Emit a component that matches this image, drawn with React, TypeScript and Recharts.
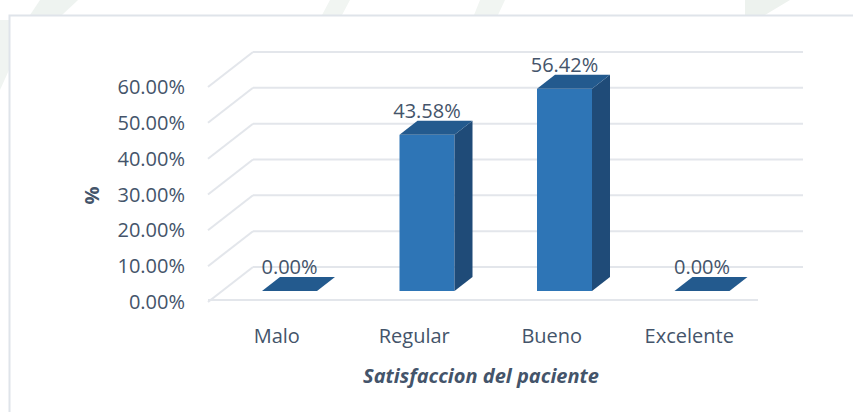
import React from 'react';
import { BarChart, Bar, XAxis, YAxis, CartesianGrid, LabelList, Label } from 'recharts';

const categories = ['Malo', 'Regular', 'Bueno', 'Excelente'];
const values = [0, 43.58, 56.42, 0];
const yTicks = [0, 10, 20, 30, 40, 50, 60];
const xTitle = 'Satisfaccion del paciente';
const yTitle = '%';

const data = categories.map((name, i) => ({ name, value: values[i] }));

const TEXT = '#44546A';
const FONT = '"Open Sans", "Noto Sans", sans-serif';
const GRID = '#e3e6eb';
const FRONT = '#2E75B6';
const SIDE = '#1F4B78';
const TOP = '#235A8E';

// 3D depth of the walls and of the columns
const WALL_DX = 45;
const WALL_DY = 35;
const COL_OFF_X = 13;
const COL_OFF_Y = 11;
const COL_DX = 18;
const COL_DY = 14;

const fmt = (v: number) => v.toFixed(2) + '%';

function Column3D(props: any) {
  const { x, y, width, height } = props;
  const h = Math.max(0, height || 0);
  const fx = x + COL_OFF_X;
  const fy = y - COL_OFF_Y;
  const w = width;
  return (
    <g>
      {h > 0 && (
        <>
          <rect x={fx} y={fy} width={w} height={h} fill={FRONT} />
          <polygon
            points={`${fx + w},${fy} ${fx + w + COL_DX},${fy - COL_DY} ${fx + w + COL_DX},${fy + h - COL_DY} ${fx + w},${fy + h}`}
            fill={SIDE}
          />
        </>
      )}
      <polygon
        points={`${fx},${fy} ${fx + COL_DX},${fy - COL_DY} ${fx + w + COL_DX},${fy - COL_DY} ${fx + w},${fy}`}
        fill={TOP}
      />
    </g>
  );
}

function GridLine3D(props: any) {
  const { x1, y1, x2 } = props;
  const isFloor = props.index === 0 || y1 > 295;
  return (
    <g>
      <line x1={x1 + WALL_DX} y1={y1 - WALL_DY} x2={x2 + WALL_DX} y2={y1 - WALL_DY} stroke={GRID} strokeWidth={2} />
      <line x1={x1} y1={y1} x2={x1 + WALL_DX} y2={y1 - WALL_DY} stroke={GRID} strokeWidth={2} />
      {isFloor && <line x1={x1} y1={y1 - 2} x2={x2} y2={y1 - 2} stroke={GRID} strokeWidth={2} />}
    </g>
  );
}

function DataLabel(props: any) {
  const { x, y, width, value } = props;
  return (
    <text
      x={x + width / 2 + COL_OFF_X}
      y={y - COL_OFF_Y - COL_DY - 3}
      textAnchor="middle"
      fill={TEXT}
      fontSize={20}
      fontFamily={FONT}
    >
      {fmt(Number(value))}
    </text>
  );
}

function XTitle(props: any) {
  const vb = props.viewBox || { x: 208, y: 302, width: 550, height: 30 };
  return (
    <text
      x={vb.x + vb.width / 2 - 2}
      y={vb.y + 81}
      textAnchor="middle"
      fill={TEXT}
      fontSize={20}
      fontFamily={FONT}
      fontWeight="bold"
      fontStyle="italic"
    >
      {xTitle}
    </text>
  );
}

function YTitle(props: any) {
  const vb = props.viewBox || { x: 108, y: 87, width: 100, height: 215 };
  const cx = vb.x - 17;
  const cy = vb.y + vb.height / 2 + 1;
  return (
    <text
      x={cx}
      y={cy}
      transform={`rotate(-90 ${cx} ${cy})`}
      textAnchor="middle"
      dominantBaseline="central"
      fill={TEXT}
      fontSize={20}
      fontFamily={FONT}
      fontWeight="bold"
    >
      {yTitle}
    </text>
  );
}

export default function App() {
  return (
    <div style={{ position: 'absolute', left: 0, top: 0, width: 853, height: 412, background: '#ffffff', overflow: 'hidden' }}>
      <svg width={853} height={412} style={{ position: 'absolute', left: 0, top: 0 }}>
        <polygon points="40,0 78,0 62,15 30,15" fill="#eef3f0" />
        <polygon points="330,0 350,0 342,15 322,15" fill="#f1f5f2" />
        <polygon points="480,0 505,0 498,15 474,15" fill="#f1f5f2" />
        <polygon points="745,0 790,0 765,15 745,15" fill="#edf2ee" />
        <polygon points="0,20 9,20 9,70 0,90" fill="#f0f4f1" />
        <rect x={9.5} y={15.5} width={900} height={450} fill="#ffffff" stroke="#dfe4ea" strokeWidth={2} />
      </svg>
      <div style={{ position: 'absolute', left: 0, top: 0 }}>
        <BarChart
          width={853}
          height={412}
          data={data}
          margin={{ top: 87, right: 95, bottom: 80, left: 108 }}
          barSize={55}
        >
          <CartesianGrid vertical={false} horizontal={(p: any) => <GridLine3D key={p.key} {...p} />} />
          <XAxis
            dataKey="name"
            axisLine={false}
            tickLine={false}
            tickSize={0}
            tickMargin={27}
            height={30}
            tick={{ fill: TEXT, fontSize: 20, fontFamily: FONT }}
          >
            <Label content={<XTitle />} />
          </XAxis>
          <YAxis
            domain={[0, 60]}
            ticks={yTicks}
            width={100}
            axisLine={false}
            tickLine={false}
            tickSize={0}
            tickMargin={23}
            tickFormatter={fmt}
            tick={{ fill: TEXT, fontSize: 20, fontFamily: FONT }}
          >
            <Label content={<YTitle />} />
          </YAxis>
          <Bar dataKey="value" isAnimationActive={false} shape={(p: any) => <Column3D {...p} />}>
            <LabelList dataKey="value" content={(p: any) => <DataLabel {...p} />} />
          </Bar>
        </BarChart>
      </div>
    </div>
  );
}
